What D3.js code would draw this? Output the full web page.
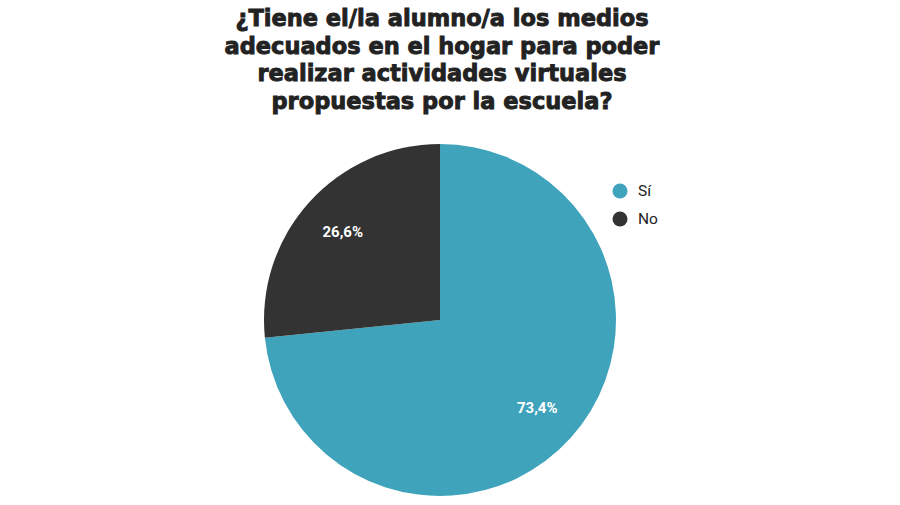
<!DOCTYPE html>
<html><head><meta charset="utf-8">
<script src="https://cdn.jsdelivr.net/npm/d3@7"></script>
<style>body{margin:0;background:#fff}svg{display:block}</style>
</head><body>
<svg id="c" width="900" height="505"></svg>
<script>
const titleLines = ["¿Tiene el/la alumno/a los medios","adecuados en el hogar para poder","realizar actividades virtuales","propuestas por la escuela?"];
const categories = ["Sí","No"];
const values = [73.4, 26.6];
const labels = ["73,4%","26,6%"];
const colors = ["#40a3bc","#333333"];

const svg = d3.select("#c");
const W = 900, H = 505;
svg.append("rect").attr("width",W).attr("height",H).attr("fill","#fff");

const title = svg.append("text").attr("text-anchor","middle")
  .attr("font-family","'DejaVu Sans', sans-serif").attr("font-weight",700)
  .attr("font-size",22.5).attr("fill","#222").attr("stroke","#222").attr("stroke-width",0.9);
titleLines.forEach((t,i)=>title.append("tspan").attr("x",442).attr("y",26+i*27.6).text(t));

const cx = 440, cy = 320, r = 176;
const g = svg.append("g").attr("transform",`translate(${cx},${cy})`);
const data = categories.map((c,i)=>({c, v:values[i], label:labels[i], color:colors[i]}));
const pie = d3.pie().sort(null).value(d=>d.v);
const arc = d3.arc().innerRadius(0).outerRadius(r);
const labelArc = d3.arc().innerRadius(r*0.745).outerRadius(r*0.745);
const arcs = pie(data);
g.selectAll("path").data(arcs).join("path").attr("d",arc).attr("fill",d=>d.data.color);

g.selectAll("text.l").data(arcs).join("text").attr("class","l")
  .attr("text-anchor","middle").attr("dominant-baseline","central")
  .attr("font-family","Roboto, 'Liberation Sans', sans-serif").attr("font-weight",700)
  .attr("font-size",15).attr("fill","#fff")
  .attr("transform",d=>`translate(${labelArc.centroid(d)})`)
  .text(d=>d.data.label);

const lg = svg.append("g").attr("transform","translate(620,191)");
data.forEach((d,i)=>{
  lg.append("circle").attr("cx",0).attr("cy",i*28).attr("r",7.5).attr("fill",d.color);
  lg.append("text").attr("x",18).attr("y",i*28).attr("dominant-baseline","central")
    .attr("font-family","Roboto, 'Liberation Sans', sans-serif").attr("font-size",15.5).attr("fill","#222").text(d.c);
});
</script>
</body></html>
